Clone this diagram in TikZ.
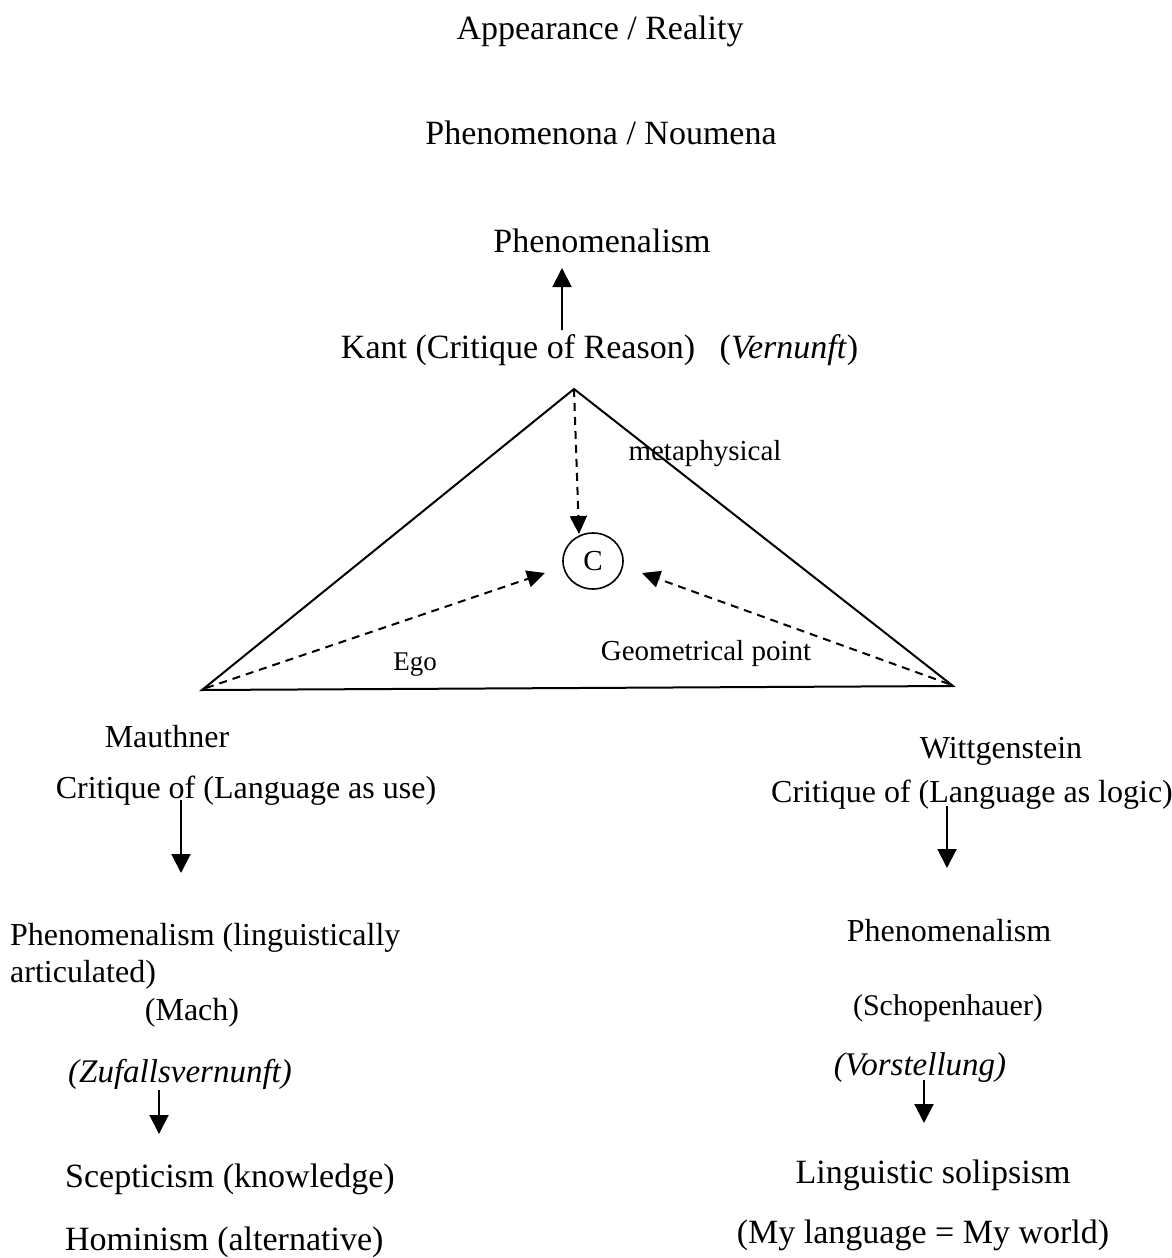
\documentclass[tikz,border=0pt]{standalone}
\usepackage{fontspec}
\setmainfont{Liberation Serif}
\usetikzlibrary{arrows.meta,shapes.geometric}
\begin{document}
\begin{tikzpicture}[x=1pt,y=-1pt,
  lbl/.style={inner sep=0pt,anchor=base},
  lblw/.style={inner sep=0pt,anchor=base west},
  big/.style={font=\fontsize{34}{40}\selectfont},
  mid/.style={font=\fontsize{32}{38}\selectfont},
  sml/.style={font=\fontsize{29}{34}\selectfont},
  solidarr/.style={line width=2pt,-{Triangle[length=19pt,width=19pt]}},
  dasharr/.style={line width=2pt,dash pattern=on 8pt off 6pt,-{Triangle[length=18pt,width=17pt]}},
  tri/.style={line width=2pt,line join=miter}]
\useasboundingbox (0,0) rectangle (1172,1258);
% top titles
\node[lbl,big] (appear) at (600,39) {Appearance / Reality};
\node[lbl,big] (phen) at (601,144) {Phenomenona / Noumena};
\node[lbl,big] (phism) at (602,252) {Phenomenalism};
\node[lbl,big] (kant) at (518,358) {Kant (Critique of Reason)};
\node[lbl,big] (vern) at (789,358) {(\textit{Vernunft})};
\coordinate (kantup) at (562,330);
\coordinate (phismdn) at (562,268);
\draw[solidarr] (kantup) -- (phismdn);
% triangle
\coordinate (apex) at (574,389);
\coordinate (vl) at (202,690);
\coordinate (vr) at (953,686);
\draw[tri] (apex) -- (vl) -- (vr) -- cycle;
\node[draw,ellipse,line width=1.6pt,minimum width=60pt,minimum height=56pt,inner sep=0pt,font=\fontsize{29}{34}\selectfont] (C) at (593,561) {C};
\coordinate (ctop) at (579,534);
\coordinate (cleft) at (545,573);
\coordinate (cright) at (642,573);
\draw[dasharr] (apex) -- (ctop);
\draw[dasharr] (vl) ++(4,-2) -- (cleft);
\draw[dasharr] (vr) ++(-4,-2) -- (cright);
\node[lbl,sml] (meta) at (705,460) {metaphysical};
\node[lbl,font=\fontsize{27}{32}\selectfont] (ego) at (415,670) {Ego};
\node[lbl,sml] (geo) at (706,660) {Geometrical point};
% left branch
\node[lbl,mid] (mau) at (167,747) {Mauthner};
\node[lbl,mid] (critl) at (246,798) {Critique of (Language as use)};
\coordinate (la1) at (181,800);
\coordinate (la2) at (181,873);
\draw[solidarr] (la1) -- (la2);
\node[lblw,mid] (phl1) at (10,945) {Phenomenalism (linguistically};
\node[lblw,mid] (phl2) at (10,982) {articulated)};
\node[lbl,mid] (mach) at (192,1020) {(Mach)};
\node[lbl,font=\fontsize{33}{38}\selectfont] (zuf) at (180,1082) {\textit{(Zufallsvernunft)}};
\coordinate (lb1) at (159,1090);
\coordinate (lb2) at (159,1134);
\draw[solidarr] (lb1) -- (lb2);
\node[lblw,big] (scep) at (65,1187) {Scepticism (knowledge)};
\node[lblw,big] (homi) at (65,1250) {Hominism (alternative)};
% right branch
\node[lbl,mid] (witt) at (1001,758) {Wittgenstein};
\node[lbl,mid] (critr) at (972,802) {Critique of (Language as logic)};
\coordinate (ra1) at (947,806);
\coordinate (ra2) at (947,868);
\draw[solidarr] (ra1) -- (ra2);
\node[lbl,mid] (phr) at (949,941) {Phenomenalism};
\node[lbl,font=\fontsize{30}{36}\selectfont] (scho) at (948,1015) {(Schopenhauer)};
\node[lbl,font=\fontsize{33}{38}\selectfont] (vor) at (920,1075) {\textit{(Vorstellung)}};
\coordinate (rb1) at (924,1080);
\coordinate (rb2) at (924,1123);
\draw[solidarr] (rb1) -- (rb2);
\node[lbl,big] (ling) at (933,1183) {Linguistic solipsism};
\node[lbl,big] (myl) at (923,1243) {(My language = My world)};
\end{tikzpicture}
\end{document}
